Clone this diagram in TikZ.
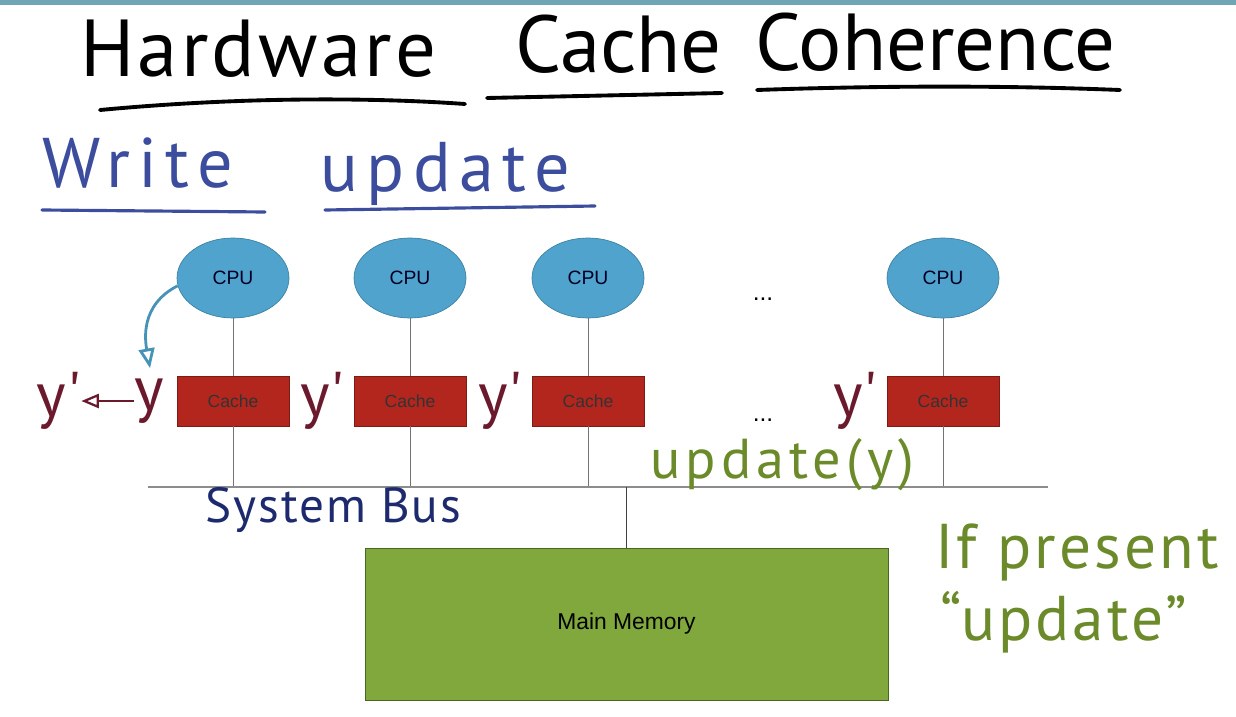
\documentclass[tikz,border=0pt]{standalone}
\usepackage{fontspec}
\setmainfont{Liberation Sans}
\newfontfamily\handfont{PT Sans}
\usepackage{tikz}
\usetikzlibrary{arrows,positioning,shapes.geometric}
\definecolor{cpublue}{HTML}{4FA3CC}
\definecolor{cachered}{HTML}{B3261E}
\definecolor{memgreen}{HTML}{80A83C}
\definecolor{inkblue}{HTML}{3C4D9E}
\definecolor{inknavy}{HTML}{1E2A6E}
\definecolor{inkred}{HTML}{6B1A2E}
\definecolor{inkgreen}{HTML}{6B8A2A}
\definecolor{barteal}{HTML}{6FA5B5}

\begin{document}
\begin{tikzpicture}[x=0.02cm,y=-0.02cm,
  cpu/.style={ellipse,draw=cpublue!80!black,fill=cpublue,minimum width=2.24cm,minimum height=1.6cm,inner sep=0pt,font=\fontsize{11}{12}\selectfont,text=black!85!blue},
  cachebox/.style={rectangle,draw=cachered!70!black,fill=cachered,minimum width=2.24cm,minimum height=1cm,inner sep=0pt,font=\fontsize{10}{12}\selectfont,text=black!80},
  memory/.style={rectangle,draw=memgreen!60!black,fill=memgreen,minimum width=10.46cm,minimum height=3.04cm,inner sep=0pt,font=\fontsize{13}{15}\selectfont},
  wire/.style={draw=black!55,line width=0.5pt},
  hand/.style 2 args={font={\handfont\fontsize{#1}{#1}\selectfont\addfontfeature{LetterSpace=#2}},inner sep=0pt},
  uline/.style={line width=2.2pt,line cap=round}]
\useasboundingbox (0,0) rectangle (1236,716);
\fill[barteal] (0,0) rectangle (1236,5);

% title
\node[hand={46}{4},anchor=base west] (hw) at (80,77) {Hardware};
\node[hand={46}{0},anchor=base west] (cc) at (515,73) {Cache};
\node[hand={46}{0},anchor=base west] (co) at (755,71) {Coherence};
\draw[uline] (100,110) .. controls (250,96) and (380,98) .. (465,104);
\draw[uline] (487,98) -- (722,93);
\draw[uline] (757,90) .. controls (900,85) and (1020,86) .. (1120,90);

\node[hand={40}{12},anchor=base west,text=inkblue] (wr) at (42,188) {Write};
\node[hand={40}{12},anchor=base west,text=inkblue] (up) at (320,192) {update};
\draw[uline,inkblue,line width=1.8pt] (42,210) -- (265,212);
\draw[uline,inkblue,line width=1.8pt] (325,210) -- (595,206);

% processors and caches
\foreach \x/\n in {233/1,410/2,588/3,943/4}{
  \node[cpu] (cpu\n) at (\x,278) {CPU};
  \node[cachebox] (cache\n) at (\x,401) {Cache};
  \draw[wire] (cpu\n.south) -- (cache\n.north);
  \draw[wire] (cache\n.south) -- (cache\n.south |- 0,487);
}
\coordinate (busL) at (148,487);
\coordinate (busR) at (1048,487);
\draw[draw=black!45,line width=0.8pt] (busL) -- (busR);

\node[font=\fontsize{14}{14}\selectfont] (dotsA) at (763,299) {...};
\node[font=\fontsize{14}{14}\selectfont] (dotsB) at (763,420) {...};

\node[memory] (mem) at (626.5,624) {Main Memory};
\draw[wire,draw=black!75] (mem.north -| 626,0) -- (626,487);

% handwritten notes
\node[hand={36}{2},text=inkred,left=7pt of cache1] (yold1) {y};
\node[hand={36}{2},text=inkred,left=30pt of yold1] (ylbl1) {y'};
\draw[inkred,line width=1.3pt,-open triangle 45] (yold1.west) -- (ylbl1.east);
\foreach \n in {2,3,4}
  \node[hand={36}{2},text=inkred,left=5pt of cache\n] (ylbl\n) {y'};
\coordinate (ynew) at (150,368);
\draw[cpublue!90!black,line width=1.6pt,-open triangle 45] (cpu1.188) .. controls (140,305) and (145,340) .. (ynew);

\node[hand={32}{9},text=inkgreen,anchor=base west] (upd) at (650,478) {update(y)};
\node[hand={28}{4},text=inknavy,anchor=base west] (bus) at (205,522) {System Bus};
\node[hand={36}{5},text=inkgreen,anchor=base west] (ifp) at (935,568) {If present};
\node[hand={36}{5},text=inkgreen,anchor=base west] (upq) at (940,640) {“update”};
\end{tikzpicture}
\end{document}
